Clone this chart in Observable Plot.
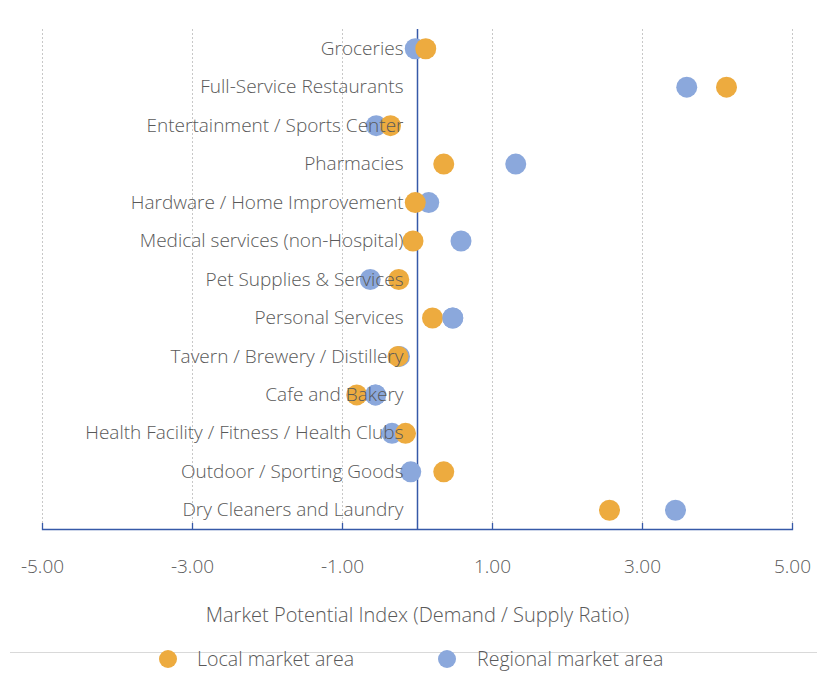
<!DOCTYPE html>
<html>
<head>
<meta charset="utf-8">
<script src="https://cdn.jsdelivr.net/npm/d3@7"></script>
<script src="https://cdn.jsdelivr.net/npm/@observablehq/plot@0.6"></script>
<style>
  html, body { margin: 0; padding: 0; background: #fff; }
  #wrap { width: 817px; font-family: "Open Sans", sans-serif; color: #595959; }
  #legend { position: relative; width: 817px; height: 33px; }
  #legend .sep { position: absolute; left: 10px; right: 0; top: 12px; border-top: 1px solid #d9d9d9; }
  #legend .dot { position: absolute; width: 18px; height: 18px; border-radius: 50%; top: 10px; }
  #legend .lbl { position: absolute; top: 6px; font-size: 19.6px; line-height: 26px; color: #595959; font-weight: 300; }
</style>
</head>
<body>
<div id="wrap">
  <div id="chart"></div>
  <div id="legend"></div>
</div>
<script>
const categories = [
  "Groceries",
  "Full-Service Restaurants",
  "Entertainment / Sports Center",
  "Pharmacies",
  "Hardware / Home Improvement",
  "Medical services (non-Hospital)",
  "Pet Supplies & Services",
  "Personal Services",
  "Tavern / Brewery / Distillery",
  "Cafe and Bakery",
  "Health Facility / Fitness / Health Clubs",
  "Outdoor / Sporting Goods",
  "Dry Cleaners and Laundry"
];
const localMarket    = [0.11, 4.12, -0.36, 0.35, -0.03, -0.06, -0.25, 0.20, -0.26, -0.81, -0.16, 0.35, 2.56];
const regionalMarket = [-0.03, 3.59, -0.55, 1.31, 0.15, 0.58, -0.63, 0.47, -0.24, -0.56, -0.34, -0.09, 3.44];
const regionalOnTop  = ["Personal Services", "Cafe and Bakery"];
const xTicks = [-5, -3, -1, 1, 3, 5];
const seriesNames = ["Local market area", "Regional market area"];
const colors = ["#EDAB3F", "#8BA8DC"];
const axisTitle = "Market Potential Index (Demand / Supply Ratio)";

const rows = categories.map((c, i) => ({category: c, local: localMarket[i], regional: regionalMarket[i]}));
const font = "Open Sans, sans-serif";

const chart = Plot.plot({
  width: 817,
  height: 640,
  marginTop: 29,
  marginBottom: 111,
  marginLeft: 42,
  marginRight: 25,
  style: {fontFamily: font, background: "#fff"},
  x: {domain: [-5, 5], ticks: xTicks},
  y: {type: "point", domain: categories, padding: 0.5, round: false, axis: null},
  marks: [
    Plot.gridX(xTicks, {stroke: "#c8c8c8", strokeOpacity: 1, strokeDasharray: "2,2"}),
    Plot.ruleX([0], {stroke: "#3659A8", strokeWidth: 1.5}),
    Plot.frame({anchor: "bottom", stroke: "#3659A8", strokeWidth: 1.3}),
    Plot.axisX(xTicks, {tickSize: 6, dy: -6, text: null, stroke: "#3659A8", strokeWidth: 1.3}),
    Plot.axisX(xTicks, {tickSize: 0, tickPadding: 30, tickFormat: d => d3.format(".2f")(d).replace("−", "-"), fontSize: 19, fontWeight: 300, fill: "#595959", label: null}),
    Plot.dot(rows, {x: "regional", y: "category", r: 10.5, fill: colors[1]}),
    Plot.dot(rows, {x: "local", y: "category", r: 10.5, fill: colors[0]}),
    Plot.dot(rows.filter(d => regionalOnTop.includes(d.category)), {x: "regional", y: "category", r: 10.5, fill: colors[1]}),
    Plot.text(rows, {x: () => 0, y: "category", text: "category", textAnchor: "end", dx: -14, fontSize: 19, fontWeight: 300, fill: "#595959"}),
    Plot.text([axisTitle], {frameAnchor: "bottom", dy: 92, fontSize: 20, fontWeight: 300, fill: "#595959"})
  ]
});
document.getElementById("chart").appendChild(chart);

const legend = document.getElementById("legend");
const sep = document.createElement("div");
sep.className = "sep";
legend.appendChild(sep);
const dotX = [159, 438];
const lblX = [197, 477];
seriesNames.forEach((name, i) => {
  const d = document.createElement("div");
  d.className = "dot";
  d.style.left = dotX[i] + "px";
  d.style.background = colors[i];
  legend.appendChild(d);
  const t = document.createElement("div");
  t.className = "lbl";
  t.style.left = lblX[i] + "px";
  t.textContent = name;
  legend.appendChild(t);
});
</script>
</body>
</html>
